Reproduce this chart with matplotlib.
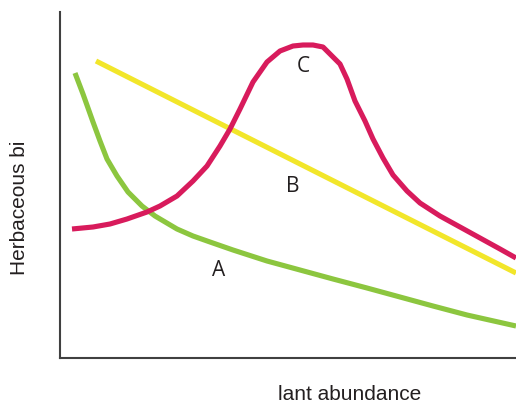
import matplotlib
matplotlib.use("Agg")
import matplotlib.pyplot as plt

# Curve A (green)
a_x = [15, 23, 28, 33, 40, 47, 57, 68, 82, 95, 117, 133, 150, 173, 207, 240, 273, 307, 340, 373, 407, 456]
a_y = [285, 264, 250, 236, 217, 199, 182, 166, 152, 142, 129, 122, 116, 108, 97, 88, 79, 70, 61, 52, 43, 32]

# Curve B (yellow, straight)
b_x = [36, 456]
b_y = [297, 85]

# Curve C (magenta)
c_x = [12, 33, 50, 67, 87, 100, 117, 133, 147, 160, 170, 180, 193, 207, 220, 233, 243, 253, 263,
       273, 280, 287, 295, 305, 313, 323, 333, 347, 360, 380, 400, 420, 440, 456]
c_y = [129, 131, 134, 139, 146, 152, 162, 177, 192, 212, 229, 249, 276, 296, 307, 312, 313, 313, 311,
       301, 294, 279, 257, 237, 219, 200, 183, 167, 155, 142, 131, 120, 109, 100]

labels = ["A", "B", "C"]
label_pos = [(159, 89), (233, 172), (243, 292)]

W, H = 516, 406
fig = plt.figure(figsize=(W / 100, H / 100), dpi=100)
ax = fig.add_axes([60 / W, (H - 359) / H, (W - 60) / W, (359 - 13) / H])
ax.set_xlim(0, 456)
ax.set_ylim(0, 346)

lw = 3.7
ax.plot(a_x, a_y, color="#8cc63f", lw=lw, solid_capstyle="butt", solid_joinstyle="round")
ax.plot(b_x, b_y, color="#f2e62a", lw=lw, solid_capstyle="butt")
ax.plot(c_x, c_y, color="#d81b5c", lw=lw, solid_capstyle="butt", solid_joinstyle="round")

for lab, (x, y) in zip(labels, label_pos):
    ax.text(x, y, lab, ha="center", va="center", fontsize=15, family="Open Sans", color="#231f20")

for s in ["top", "right"]:
    ax.spines[s].set_visible(False)
for s in ["left", "bottom"]:
    ax.spines[s].set_color("#404040")
    ax.spines[s].set_linewidth(1.5)
ax.set_xticks([])
ax.set_yticks([])

fig.text(350 / W, 1 - 395 / H, "lant abundance", ha="center", va="center",
         fontsize=15, family="Liberation Sans", color="#231f20")
fig.text(20 / W, 1 - 207.5 / H, "Herbaceous bi", ha="center", va="center", rotation=90,
         fontsize=15, family="Liberation Sans", color="#231f20")

fig.savefig("out.png", dpi=100)
